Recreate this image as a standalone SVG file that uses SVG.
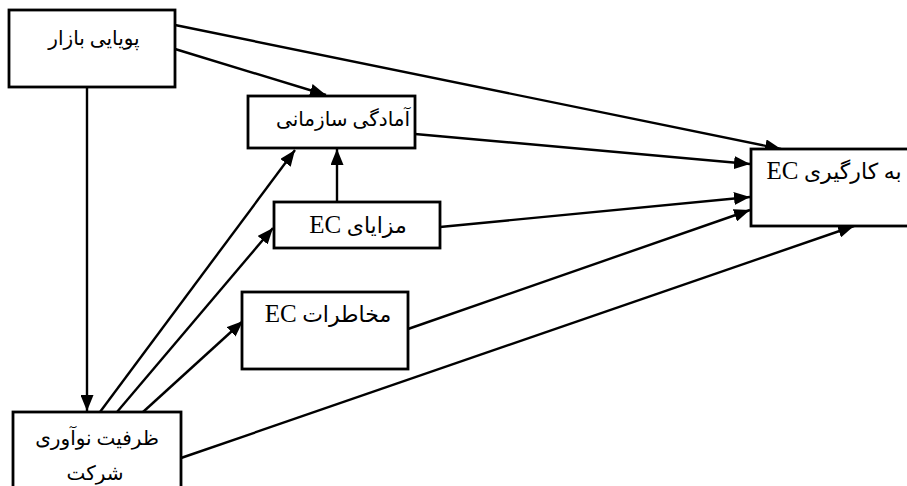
<svg xmlns="http://www.w3.org/2000/svg" width="907" height="486" viewBox="0 0 907 486">
<style>
.box{fill:#fff;stroke:#000;stroke-width:2.8}
.lbl{font-family:"Liberation Serif","DejaVu Sans",serif;font-size:22px;fill:#000;text-anchor:middle;direction:rtl;unicode-bidi:embed}
.sm{font-size:20px}
.ec{font-size:25px}
.con{stroke:#000;stroke-width:2.4;fill:none;marker-end:url(#ah)}
</style>
<defs>
<marker id="ah" markerUnits="userSpaceOnUse" markerWidth="17" markerHeight="13" refX="16" refY="6.5" orient="auto">
<path d="M0,0 L16,6.5 L0,13 z" fill="#000"/>
</marker>
</defs>
<g id="connectors">
<line class="con" x1="175" y1="49" x2="326" y2="95"/>
<line class="con" x1="175" y1="25" x2="781" y2="149"/>
<line class="con" x1="87" y1="87" x2="87" y2="411"/>
<line class="con" x1="415" y1="134" x2="750" y2="164"/>
<line class="con" x1="337" y1="202" x2="337" y2="149"/>
<line class="con" x1="440" y1="227" x2="750" y2="197"/>
<line class="con" x1="408" y1="329" x2="750" y2="210"/>
<line class="con" x1="181" y1="458" x2="854" y2="226"/>
<line class="con" x1="100" y1="412" x2="295" y2="150"/>
<line class="con" x1="117" y1="412" x2="273" y2="228"/>
<line class="con" x1="143" y1="412" x2="243" y2="321"/>
</g>
<g id="market">
<rect class="box" x="9" y="10" width="166" height="77"/>
<text class="lbl sm" x="94" y="45">پویایی بازار</text>
</g>
<g id="readiness">
<rect class="box" x="248" y="96" width="167" height="52"/>
<text class="lbl sm" x="343" y="126">آمادگی سازمانی</text>
</g>
<g id="benefits">
<rect class="box" x="274" y="202" width="166" height="46"/>
<text class="lbl" x="358" y="233">مزایای <tspan class="ec">EC</tspan></text>
</g>
<g id="risks">
<rect class="box" x="242" y="292" width="166" height="77"/>
<text class="lbl" x="328" y="322">مخاطرات <tspan class="ec">EC</tspan></text>
</g>
<g id="adoption">
<rect class="box" x="751" y="149" width="165" height="77"/>
<text class="lbl" x="834" y="179">به کارگیری <tspan class="ec">EC</tspan></text>
</g>
<g id="innovation">
<rect class="box" x="13" y="412" width="168" height="80"/>
<text class="lbl sm" x="97" y="445">ظرفیت نوآوری</text>
<text class="lbl sm" x="95" y="480">شرکت</text>
</g>
</svg>
